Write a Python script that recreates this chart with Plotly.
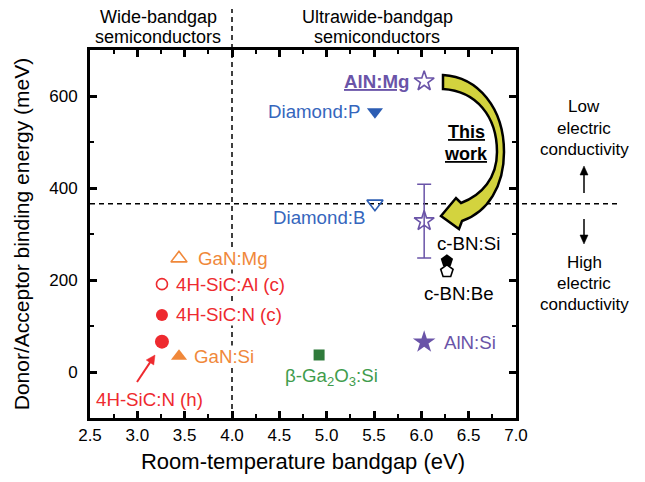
import math
import plotly.graph_objects as go

# ---------------- data ----------------
materials = ["4H-SiC:N (h)", "4H-SiC:N (c)", "4H-SiC:Al (c)", "GaN:Si", "GaN:Mg",
             "β-Ga2O3:Si", "Diamond:P", "Diamond:B", "c-BN:Si", "c-BN:Be",
             "AlN:Si", "AlN:Mg"]
bandgap_eV = [3.26, 3.26, 3.26, 3.44, 3.44, 4.92, 5.51, 5.51, 6.27, 6.27, 6.03, 6.03]
binding_meV = [66, 124, 191, 34, 247, 37, 566, 366, 242, 219, 65, 632]

this_work_bandgap = [6.03]
this_work_energy = [328]
this_work_error = [80]

conductivity_threshold_meV = 366
wide_ultrawide_boundary_eV = 4.0

x_range = [2.5, 7.0]
y_range = [-100, 700]
x_ticks = [2.5, 3.0, 3.5, 4.0, 4.5, 5.0, 5.5, 6.0, 6.5, 7.0]
y_ticks = [0, 200, 400, 600]

# ---------------- styles ----------------
RED = "#ee2a2f"
ORANGE = "#f0883a"
BLUE = "#2c5db3"
BLUE_T = "#3566bd"
PURPLE = "#6a54a8"
GREEN = "#2f7b3b"
GREEN_T = "#3f9c4c"
FONT = "Arial, Liberation Sans, sans-serif"
LABEL_SIZE = 18.7

style = {
    "4H-SiC:N (h)": dict(symbol="circle", color=RED, size=14, open=False),
    "4H-SiC:N (c)": dict(symbol="circle", color=RED, size=12, open=False),
    "4H-SiC:Al (c)": dict(symbol="circle-open", color=RED, size=11, open=True),
    "GaN:Si": dict(symbol="triangle-up", color=ORANGE, size=14, open=False),
    "GaN:Mg": dict(symbol="triangle-up-open", color=ORANGE, size=14, open=True),
    "β-Ga2O3:Si": dict(symbol="square", color=GREEN, size=11, open=False),
    "Diamond:P": dict(symbol="triangle-down", color=BLUE, size=14, open=False),
    "Diamond:B": dict(symbol="triangle-down-open", color=BLUE, size=14, open=True),
    "c-BN:Si": dict(symbol="pentagon", color="black", size=13, open=False),
    "c-BN:Be": dict(symbol="pentagon-open", color="black", size=13, open=True),
    "AlN:Si": dict(symbol="star", color=PURPLE, size=17, open=False),
    "AlN:Mg": dict(symbol="star-open", color=PURPLE, size=15, open=True),
}

# label text, colour, anchor, pixel shift relative to the point, bold, white background
labels = {
    "4H-SiC:N (c)": ("4H-SiC:N (c)", RED, "left", 13, 0, False, True),
    "4H-SiC:Al (c)": ("4H-SiC:Al (c)", RED, "left", 13, 0, False, True),
    "GaN:Si": ("GaN:Si", ORANGE, "left", 14, 0, False, True),
    "GaN:Mg": ("GaN:Mg", ORANGE, "left", 18, 0, False, True),
    "β-Ga2O3:Si": ("β-Ga<sub>2</sub>O<sub>3</sub>:Si", GREEN_T, "center", 12, -22, False, False),
    "Diamond:P": ("Diamond:P", BLUE_T, "right", -13, 0, False, False),
    "Diamond:B": ("Diamond:B", BLUE_T, "right", -8, -14, False, False),
    "c-BN:Si": ("c-BN:Si", "black", "center", 22, 17, False, False),
    "c-BN:Be": ("c-BN:Be", "black", "center", 12, -22, False, False),
    "AlN:Si": ("AlN:Si", PURPLE, "left", 18, 0, False, False),
    "AlN:Mg": ("<u>AlN:Mg</u>", PURPLE, "right", -13, 0, True, False),
}

# ---------------- layout geometry (page pixels; page has an 8px body margin) ----------------
OFF = 8
PAGE_W, PAGE_H = 645, 482
PL, PR, PT, PB = 90, 516, 50, 418          # plot box in page pixels
W, H = PAGE_W - OFF, PAGE_H - OFF
ML, MT = PL - OFF, PT - OFF
MR, MB = W - (PR - OFF), H - (PB - OFF)
PW, PH = PR - PL, PB - PT


def px_x(px):
    return x_range[0] + (px - PL) / PW * (x_range[1] - x_range[0])


def px_y(py):
    return y_range[0] + (PB - py) / PH * (y_range[1] - y_range[0])


def paper_x(px):
    return (px - PL) / PW


def paper_y(py):
    return (PB - py) / PH


fig = go.Figure()

for name, bx, ey in zip(materials, bandgap_eV, binding_meV):
    s = style[name]
    fig.add_trace(go.Scatter(
        x=[bx], y=[ey], mode="markers", name=name, showlegend=False,
        marker=dict(symbol=s["symbol"], size=s["size"], color=s["color"],
                    line=dict(width=1.6 if s["open"] else 0, color=s["color"])),
    ))

fig.add_trace(go.Scatter(
    x=this_work_bandgap, y=this_work_energy, mode="markers", showlegend=False,
    name="AlN:Mg (this work)",
    marker=dict(symbol="star-open", size=15, color=PURPLE, line=dict(width=1.6, color=PURPLE)),
    error_y=dict(type="data", array=this_work_error, color=PURPLE, thickness=1.5, width=7),
))

annotations = []
for name, bx, ey in zip(materials, bandgap_eV, binding_meV):
    if name not in labels:
        continue
    txt, col, anc, dx, dy, bold, bg = labels[name]
    ann = dict(
        x=bx, y=ey, xref="x", yref="y", text=("<b>%s</b>" % txt) if bold else txt,
        showarrow=False, xanchor=anc, yanchor="middle", xshift=dx, yshift=dy,
        font=dict(family=FONT, size=LABEL_SIZE, color=col))
    if bg:
        ann.update(bgcolor="white", borderpad=0)
    annotations.append(ann)

i_h = materials.index("4H-SiC:N (h)")
annotations.append(dict(
    x=bandgap_eV[i_h], y=binding_meV[i_h], xref="x", yref="y", text="4H-SiC:N (h)",
    showarrow=False, xanchor="center", yanchor="middle", xshift=-12, yshift=-58,
    font=dict(family=FONT, size=LABEL_SIZE, color=RED)))


def multiline(lines, cx, cy, spacing, size, color="black"):
    n = len(lines)
    for k, t in enumerate(lines):
        py = cy + (k - (n - 1) / 2) * spacing
        annotations.append(dict(
            x=paper_x(cx), y=paper_y(py), xref="paper", yref="paper", text=t,
            showarrow=False, xanchor="center", yanchor="middle",
            font=dict(family=FONT, size=size, color=color)))


multiline(["Wide-bandgap", "semiconductors"], 158, 27, 20, 18)
multiline(["Ultrawide-bandgap", "semiconductors"], 377, 27, 20, 18)
multiline(["Low", "electric", "conductivity"], 584, 128, 21, 17)
multiline(["High", "electric", "conductivity"], 584, 283, 21, 17)
multiline(["<b><u>This</u></b>", "<b><u>work</u></b>"], 466, 143, 22, 18)

shapes = []


def arrow_shapes(tail, tip, color, width, head_len, head_half, conv):
    """Straight arrow from tail to tip (page pixels); conv maps pixels to (xref, yref) coords."""
    (tx, ty), (hx, hy) = tail, tip
    L = math.hypot(hx - tx, hy - ty)
    ux, uy = (hx - tx) / L, (hy - ty) / L
    bx, by = hx - head_len * ux, hy - head_len * uy
    vx, vy = -uy, ux
    fx, fy, xr, yr = conv
    shapes.append(dict(type="line", xref=xr, yref=yr,
                       x0=fx(tx), y0=fy(ty), x1=fx(bx + ux), y1=fy(by + uy),
                       line=dict(color=color, width=width)))
    c1 = (bx + head_half * vx, by + head_half * vy)
    c2 = (bx - head_half * vx, by - head_half * vy)
    p = "M %f,%f L %f,%f L %f,%f Z" % (fx(hx), fy(hy), fx(c1[0]), fy(c1[1]), fx(c2[0]), fy(c2[1]))
    shapes.append(dict(type="path", xref=xr, yref=yr, path=p, fillcolor=color,
                       line=dict(color=color, width=0.5)))


paper_conv = (paper_x, paper_y, "paper", "paper")
data_conv = (px_x, px_y, "x", "y")
arrow_shapes((584, 193), (584, 166), "black", 1.5, 9, 4, paper_conv)
arrow_shapes((584, 219), (584, 244), "black", 1.5, 9, 4, paper_conv)
arrow_shapes((137, 382), (155, 355), RED, 2, 9, 4.5, data_conv)

# dashed guide lines
shapes.append(dict(type="line", xref="paper", yref="y", x0=0, x1=paper_x(617),
                   y0=conductivity_threshold_meV, y1=conductivity_threshold_meV,
                   line=dict(color="black", width=1.5, dash="5px,4px"), layer="below"))
shapes.append(dict(type="line", xref="x", yref="paper", x0=wide_ultrawide_boundary_eV,
                   x1=wide_ultrawide_boundary_eV, y0=0, y1=paper_y(9),
                   line=dict(color="black", width=1.5, dash="5px,4px"), layer="below"))

# big curved "This work" arrow (page-pixel outline converted to data coordinates)
outline = [
    ("M", [(443, 75)]),
    ("C", [(478, 77), (504, 108), (504, 152)]),
    ("C", [(504, 186), (488, 212), (462, 221)]),
    ("L", [(459, 229)]),
    ("L", [(441, 216)]),
    ("L", [(456, 198)]),
    ("L", [(461, 203)]),
    ("C", [(482, 195), (497, 178), (497, 152)]),
    ("C", [(497, 116), (476, 91), (443, 89)]),
]
path = ""
for cmd, pts in outline:
    path += cmd + " " + " ".join("%.4f,%.3f" % (px_x(a), px_y(b)) for a, b in pts) + " "
path += "Z"
shapes.append(dict(type="path", path=path, xref="x", yref="y",
                   fillcolor="#d3d33e", line=dict(color="black", width=2.5), layer="above"))

axis_common = dict(showline=True, linewidth=3, linecolor="black", mirror="ticks",
                   ticks="inside", ticklen=7, tickwidth=2.5, tickcolor="black",
                   showgrid=False, zeroline=False,
                   tickfont=dict(family=FONT, size=17, color="black"))

fig.update_layout(
    width=W, height=H,
    margin=dict(l=ML, r=MR, t=MT, b=MB, autoexpand=False),
    paper_bgcolor="white", plot_bgcolor="white",
    xaxis=dict(range=x_range, tickvals=x_ticks, ticktext=["%.1f" % v for v in x_ticks],
               minor=dict(ticks="inside", ticklen=4, tickwidth=2, dtick=0.25, tickcolor="black"),
               title=dict(text="Room-temperature bandgap (eV)", standoff=10,
                          font=dict(family=FONT, size=22, color="black")),
               **axis_common),
    yaxis=dict(range=y_range, tickvals=y_ticks,
               minor=dict(ticks="inside", ticklen=4, tickwidth=2, dtick=100, tickcolor="black"),
               title=dict(text="Donor/Acceptor binding energy (meV)", standoff=14,
                          font=dict(family=FONT, size=21, color="black")),
               ticklabelstandoff=6,
               **axis_common),
    annotations=annotations,
    shapes=shapes,
)

fig.write_html("out.html")
